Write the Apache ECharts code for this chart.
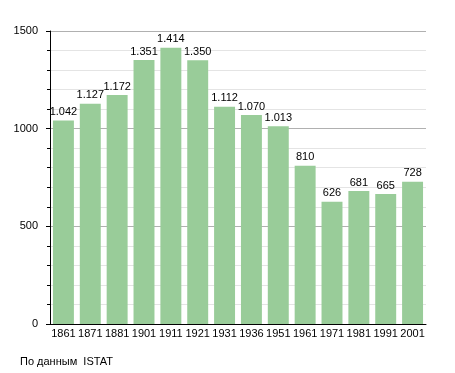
<!DOCTYPE html>
<html><head><meta charset="utf-8">
<script src="https://cdn.jsdelivr.net/npm/echarts@6/dist/echarts.min.js"></script>
<style>html,body{margin:0;padding:0;background:#fff}#c{width:455px;height:373px}</style>
</head><body><div id="c"></div>
<script>
var years = ['1861','1871','1881','1901','1911','1921','1931','1936','1951','1961','1971','1981','1991','2001'];
var population = [1042,1127,1172,1351,1414,1350,1112,1070,1013,810,626,681,665,728];
var yTicks = [0,500,1000,1500];
var sourceText = 'По данным  ISTAT';

function fmt(v){ var s=String(v); return s.length>3 ? s.slice(0,s.length-3)+'.'+s.slice(-3) : s; }
var font = 'Liberation Sans, Arial, sans-serif';
var chart = echarts.init(document.getElementById('c'), null, {renderer:'canvas'});
chart.setOption({
  animation:false,
  grid:{left:50,right:29,top:31,bottom:49,containLabel:false},
  xAxis:{type:'category',data:years,boundaryGap:true,
    axisLine:{lineStyle:{color:'#000',width:1}},
    axisTick:{show:false},
    axisLabel:{color:'#000',fontFamily:font,fontSize:11,margin:4,interval:0}},
  yAxis:{type:'value',min:yTicks[0],max:yTicks[yTicks.length-1],interval:500,
    axisLine:{show:true,lineStyle:{color:'#000'}},
    axisTick:{show:true,length:4,lineStyle:{color:'#000'}},
    minorTick:{show:true,splitNumber:5,length:3,lineStyle:{color:'#000'}},
    splitLine:{show:true,lineStyle:{color:'#b0b0b0'}},
    minorSplitLine:{show:true,lineStyle:{color:'#e4e4e4'}},
    axisLabel:{color:'#000',fontFamily:font,fontSize:11,margin:12,
      formatter:function(v){return String(v);}}},
  series:[{type:'bar',data:population,barCategoryGap:'22%',
    itemStyle:{color:'#99cc99'},
    label:{show:true,position:'top',distance:3,color:'#000',fontFamily:font,fontSize:11,
      formatter:function(p){return fmt(p.value);}}}],
  graphic:[{type:'text',left:20,top:356,style:{text:sourceText,fill:'#000',font:'11px '+font}}]
});
</script></body></html>
